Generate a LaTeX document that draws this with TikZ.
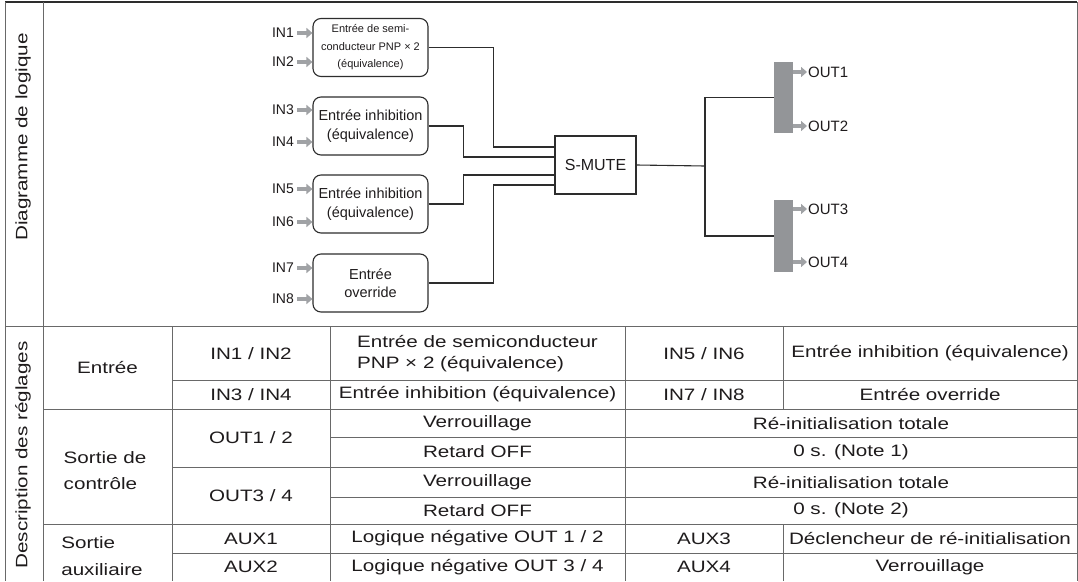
\documentclass[tikz,border=0pt]{standalone}
\usepackage{fontspec}
\setmainfont{Liberation Sans}
\newfontfamily\tabfont[FakeStretch=1.25]{Liberation Sans}
\usetikzlibrary{arrows.meta, positioning}
\definecolor{framegray}{RGB}{105,105,105}
\definecolor{wiregray}{RGB}{45,45,45}
\definecolor{bargray}{RGB}{147,149,152}
\definecolor{arrowgray}{RGB}{160,162,165}
\definecolor{textdark}{RGB}{30,27,28}

\begin{document}
\begin{tikzpicture}[x=1pt, y=-1pt,
    frame/.style={draw=framegray, line width=1pt},
    cell/.style={font=\tabfont\fontsize{16.5}{21}\selectfont, text=textdark,
                 inner sep=0pt, align=center},
    sidelabel/.style={cell, rotate=90},
    blk/.style={rectangle, rounded corners=8pt, draw=wiregray, line width=1.1pt,
                minimum width=115pt, minimum height=58pt, align=center,
                font=\fontsize{14.5}{18.5}\selectfont, text=textdark, inner sep=1pt},
    pin/.style={font=\fontsize{14}{16}\selectfont, text=textdark, inner sep=0pt, anchor=east},
    outpin/.style={font=\fontsize{15}{17}\selectfont, text=textdark, inner sep=0pt, anchor=west},
    wire/.style={draw=wiregray, line width=1.1pt},
    sig/.style={draw=arrowgray, line width=3.2pt, -{Triangle[length=6pt, width=10pt]}},
    bar/.style={rectangle, fill=bargray, minimum width=19pt, inner sep=0pt}
]
\useasboundingbox (0,0) rectangle (1078,581);

% frame and table grid
\draw[frame, line width=1.6pt, draw=wiregray] (5,2) -- (1077,2);
\draw[frame] (5,2) -- (5,581);
\draw[frame] (1077,2) -- (1077,581);
\draw[frame] (43,2) -- (43,581);
\draw[frame] (5,326) -- (1077,326);
\draw[frame] (172,380) -- (1077,380);
\draw[frame] (43,409) -- (1077,409);
\draw[frame] (330,437) -- (1077,437);
\draw[frame] (172,467) -- (1077,467);
\draw[frame] (330,497) -- (1077,497);
\draw[frame] (43,524) -- (1077,524);
\draw[frame] (172,553) -- (1077,553);
\draw[frame] (172,326) -- (172,581);
\draw[frame] (330,326) -- (330,581);
\draw[frame] (625,326) -- (625,581);
\draw[frame] (783,326) -- (783,409);
\draw[frame] (783,524) -- (783,581);

\node[sidelabel] (diag) at (23,137) {Diagramme de logique};
\node[sidelabel] (desc) at (23,455) {Description des réglages};

% logic diagram
\node[blk, font=\fontsize{11}{17.5}\selectfont] (semi) at (370.5,47.5)
    {Entrée de semi-\\conducteur PNP × 2\\(équivalence)};
\node[blk] (inhA) at (370.5,126) {Entrée inhibition\\(équivalence)};
\node[blk] (inhB) at (370.5,204) {Entrée inhibition\\(équivalence)};
\node[blk] (ovr) at (370.5,283) {Entrée\\override};

\node[pin] (in1) at (294,33) {IN1};
\node[pin] (in2) at (294,62) {IN2};
\node[pin] (in3) at (294,110) {IN3};
\node[pin] (in4) at (294,142) {IN4};
\node[pin] (in5) at (294,189) {IN5};
\node[pin] (in6) at (294,222) {IN6};
\node[pin] (in7) at (294,268) {IN7};
\node[pin] (in8) at (294,299) {IN8};

\draw[sig] ([xshift=3pt]in1.east) -- (in1 -| semi.west);
\draw[sig] ([xshift=3pt]in2.east) -- (in2 -| semi.west);
\draw[sig] ([xshift=3pt]in3.east) -- (in3 -| inhA.west);
\draw[sig] ([xshift=3pt]in4.east) -- (in4 -| inhA.west);
\draw[sig] ([xshift=3pt]in5.east) -- (in5 -| inhB.west);
\draw[sig] ([xshift=3pt]in6.east) -- (in6 -| inhB.west);
\draw[sig] ([xshift=3pt]in7.east) -- (in7 -| ovr.west);
\draw[sig] ([xshift=3pt]in8.east) -- (in8 -| ovr.west);

\node[rectangle, draw=wiregray, line width=1.1pt, minimum width=81pt, minimum height=58pt,
      font=\fontsize{16}{18}\selectfont, text=textdark] (smute) at (595.5,165) {S-MUTE};

\coordinate (s1) at ([yshift=18pt]smute.west);
\coordinate (s2) at ([yshift=8pt]smute.west);
\coordinate (s3) at ([yshift=-10pt]smute.west);
\coordinate (s4) at ([yshift=-20pt]smute.west);
\draw[wire] (semi.east) -- ++(65,0) |- (s1);
\draw[wire] (inhA.east) -- ++(35,0) |- (s2);
\draw[wire] (inhB.east) -- ++(35,0) |- (s3);
\draw[wire] (ovr.east) -- ++(65,0) |- (s4);

\node[bar, minimum height=71pt] (barA) at (783.5,97.5) {};
\node[bar, minimum height=72pt] (barB) at (783.5,236) {};
\coordinate (fork) at (705,166);
\draw[wire] (smute.east) -- (fork);
\draw[wire] (barA.west) -| (fork) |- (barB.west);

\node[outpin] (out1) at (808,72) {OUT1};
\node[outpin] (out2) at (808,126) {OUT2};
\node[outpin] (out3) at (808,209) {OUT3};
\node[outpin] (out4) at (808,262) {OUT4};
\draw[sig] (out1 -| barA.east) -- ([xshift=-1pt]out1.west);
\draw[sig] (out2 -| barA.east) -- ([xshift=-1pt]out2.west);
\draw[sig] (out3 -| barB.east) -- ([xshift=-1pt]out3.west);
\draw[sig] (out4 -| barB.east) -- ([xshift=-1pt]out4.west);

% settings table
\node[cell] (entree) at (107.5,367.5) {Entrée};
\node[cell, align=left, font=\tabfont\fontsize{16.5}{26}\selectfont] (ctrl) at (105,471) {Sortie de\\contrôle};
\node[cell, align=left, font=\tabfont\fontsize{16.5}{27}\selectfont] (aux) at (102,556) {Sortie\\auxiliaire};

\node[cell] (in12) at (251,353.5) {IN1 / IN2};
\node[cell] (in34) at (251,394.5) {IN3 / IN4};
\node[cell] (out12) at (251,438) {OUT1 / 2};
\node[cell] (out34) at (251,495.5) {OUT3 / 4};
\node[cell] (aux1) at (251,538.5) {AUX1};
\node[cell] (aux2) at (251,567) {AUX2};

\node[cell, align=left] (v12) at (477.5,353.5) {Entrée de semiconducteur\\PNP × 2 (équivalence)};
\node[cell] (v34) at (477.5,394.5) {Entrée inhibition (équivalence)};
\node[cell] (lockA) at (477.5,423) {Verrouillage};
\node[cell] (delA) at (477.5,452) {Retard OFF};
\node[cell] (lockB) at (477.5,482) {Verrouillage};
\node[cell] (delB) at (477.5,510.5) {Retard OFF};
\node[cell] (neg12) at (477.5,538.5) {Logique négative OUT 1 / 2};
\node[cell] (neg34) at (477.5,567) {Logique négative OUT 3 / 4};

\node[cell] (in56) at (704,353.5) {IN5 / IN6};
\node[cell] (in78) at (704,394.5) {IN7 / IN8};
\node[cell] (aux3) at (704,538.5) {AUX3};
\node[cell] (aux4) at (704,567) {AUX4};

\node[cell] (v56) at (930,353.5) {Entrée inhibition (équivalence)};
\node[cell] (v78) at (930,394.5) {Entrée override};
\node[cell] (rstA) at (851,423) {Ré-initialisation totale};
\node[cell] (noteA) at (851,452) {0 s. (Note 1)};
\node[cell] (rstB) at (851,482) {Ré-initialisation totale};
\node[cell] (noteB) at (851,510.5) {0 s. (Note 2)};
\node[cell] (trig) at (930,538.5) {Déclencheur de ré-initialisation};
\node[cell] (lockC) at (930,567) {Verrouillage};
\end{tikzpicture}
\end{document}
